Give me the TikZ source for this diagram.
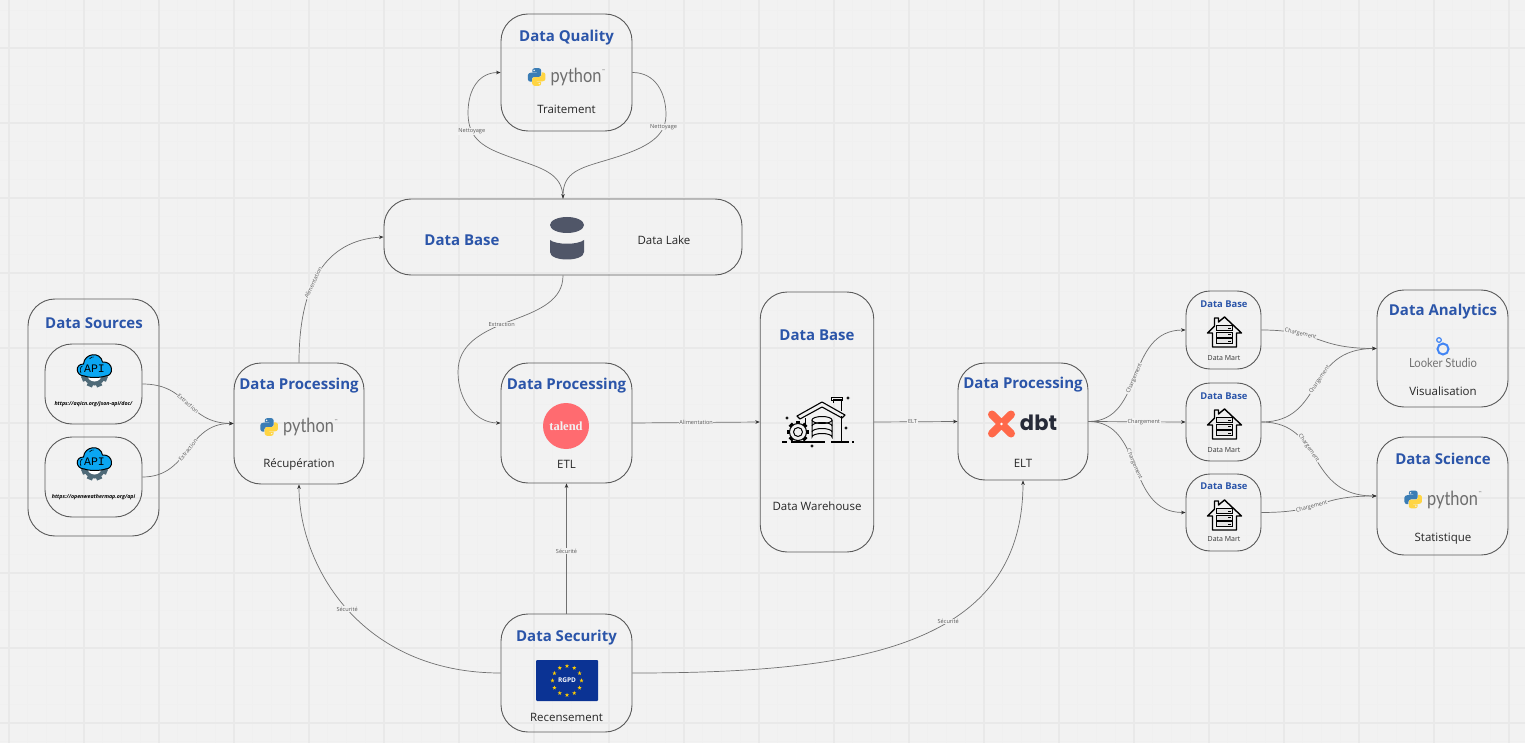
\documentclass[tikz,border=0pt]{standalone}
\usepackage{fontspec}
\setmainfont{Open Sans}
\newfontfamily\pyfont[FakeStretch=0.84]{Lato}
\newfontfamily\lookfont[FakeStretch=0.9]{Lato}
\newfontfamily\logofont{Lato}
\newfontfamily\dbtfont{Poppins}
\newfontfamily\talfont{Liberation Serif}
\newfontfamily\apifont{Liberation Mono}
\usetikzlibrary{arrows.meta,calc}
\definecolor{bgc}{HTML}{F2F2F2}
\definecolor{gridmaj}{HTML}{E9E9E9}
\definecolor{gridmin}{HTML}{F0F0F0}
\definecolor{titlec}{HTML}{2B55A9}
\definecolor{edgec}{HTML}{5A5A5A}
\definecolor{connc}{HTML}{707070}
\definecolor{pyblue}{HTML}{3B7DB5}
\definecolor{pyyellow}{HTML}{FFD543}
\definecolor{pygrey}{HTML}{6E6E6E}
\definecolor{apiblue}{HTML}{0AA6F2}
\definecolor{gearc}{HTML}{4F6A78}
\definecolor{cylc}{HTML}{505668}
\definecolor{talc}{HTML}{FF6B70}
\definecolor{dbtc}{HTML}{FF694A}
\definecolor{dbtk}{HTML}{262A38}
\definecolor{lookb}{HTML}{4285F4}
\definecolor{euc}{HTML}{0B3394}
\definecolor{eus}{HTML}{FFCC00}
\tikzset{
  x=1pt,y=-1pt,
  boxn/.style={draw=edgec,line width=0.9pt,rounded corners=27pt,inner sep=0pt},
  martn/.style={boxn,rounded corners=24pt},
  ttl/.style={font=\bfseries\fontsize{15}{18}\selectfont,text=titlec,inner sep=0pt,yshift=-0.5pt},
  ttls/.style={font=\bfseries\fontsize{9.4}{12}\selectfont,text=titlec,inner sep=0pt,yshift=-0.3pt},
  sub/.style={font=\fontsize{11.5}{14}\selectfont,text=black!85,inner sep=0pt},
  subs/.style={font=\fontsize{7}{9}\selectfont,text=black!80,inner sep=0pt},
  urln/.style={font=\bfseries\itshape\fontsize{5.3}{7}\selectfont,text=black,inner sep=0pt},
  conn/.style={draw=connc,line width=0.7pt,-{Stealth[length=4.5pt,width=3.6pt,color=black!80]}},
  lab/.style={font=\fontsize{5.6}{7}\selectfont,text=black!65,fill=bgc,inner sep=0.6pt},
  pylogo/.pic={
    \begin{scope}[xshift=-29.8pt,scale=0.166,xshift=-55pt,yshift=55pt]
      \fill[pyblue] (54.9,0.9) .. controls (50.3,0.9) and (45.9,1.3) .. (42.1,2)
        .. controls (30.8,4) and (28.8,8.1) .. (28.8,15.7) -- (28.8,25.8) -- (55.4,25.8) -- (55.4,29.1) -- (18.8,29.1)
        .. controls (11.1,29.1) and (4.3,33.8) .. (2.2,42.6)
        .. controls (-0.2,52.7) and (-0.3,59) .. (2.2,69.5)
        .. controls (4.1,77.3) and (8.5,82.9) .. (16.2,82.9) -- (25.3,82.9) -- (25.3,70.8)
        .. controls (25.3,62) and (32.9,54.3) .. (42,54.3) -- (68.6,54.3)
        .. controls (76,54.3) and (81.9,48.2) .. (81.9,40.8) -- (81.9,15.7)
        .. controls (81.9,8.5) and (75.8,3.1) .. (68.6,1.9)
        .. controls (64,1.1) and (59.3,0.8) .. (54.9,0.9) -- cycle;
      \fill[bgc] (39.5,15) circle[radius=5];
      \begin{scope}[xshift=110pt,yshift=-110pt,xscale=-1,yscale=-1]
      \fill[pyyellow] (54.9,0.9) .. controls (50.3,0.9) and (45.9,1.3) .. (42.1,2)
        .. controls (30.8,4) and (28.8,8.1) .. (28.8,15.7) -- (28.8,25.8) -- (55.4,25.8) -- (55.4,29.1) -- (18.8,29.1)
        .. controls (11.1,29.1) and (4.3,33.8) .. (2.2,42.6)
        .. controls (-0.2,52.7) and (-0.3,59) .. (2.2,69.5)
        .. controls (4.1,77.3) and (8.5,82.9) .. (16.2,82.9) -- (25.3,82.9) -- (25.3,70.8)
        .. controls (25.3,62) and (32.9,54.3) .. (42,54.3) -- (68.6,54.3)
        .. controls (76,54.3) and (81.9,48.2) .. (81.9,40.8) -- (81.9,15.7)
        .. controls (81.9,8.5) and (75.8,3.1) .. (68.6,1.9)
        .. controls (64,1.1) and (59.3,0.8) .. (54.9,0.9) -- cycle;
      \fill[bgc] (39.5,15) circle[radius=5];
      \end{scope}
    \end{scope}
    \node[inner sep=0pt,text=pygrey,font=\pyfont\fontsize{19.5}{22}\selectfont] (-word) at (9.5,0) {python};
    \node[inner sep=0pt,text=pygrey,font=\logofont\fontsize{4}{5}\selectfont] (-tm) at (37,-6) {™};
  },
  apilogo/.pic={
    \fill[gearc] (0,4) circle[radius=11.5];
    \foreach \a in {22.5,67.5,...,337.5}{
      \fill[gearc,rotate around={\a:(0,4)}] (-2.8,4) rectangle (2.8,17.5);
    }
    \fill[white] (0,4) circle[radius=7.5];
    \filldraw[fill=apiblue,draw=black,line width=1pt] (-10,6)
      .. controls (-19,6) and (-20,-6) .. (-11,-6)
      .. controls (-10,-17) and (6,-19) .. (8,-8)
      .. controls (19,-9) and (20,6) .. (11,6)
      .. controls (5,8) and (-5,8) .. cycle;
    \draw[black,line width=0.6pt] (-13.5,3) .. controls (-15,0) and (-14,-3.5) .. (-12,-4);
    \draw[black,line width=0.6pt] (-5,-11) .. controls (-4,-13) and (-2,-13) .. (-1,-13);
    \node[inner sep=0pt,font=\apifont\fontsize{11.5}{12}\selectfont] (-txt) at (0,-1.5) {API};
  },
  martlogo/.pic={
    \draw[black,line width=1.4pt,line join=round] (-17,1) -- (-10,-6) -- (-10,-14) -- (-6,-14) -- (-6,-10) -- (0,-15)
      -- (17,1) -- (12,1) -- (12,15) -- (-12,15) -- (-12,1) -- cycle;
    \foreach \y in {-6.5,0,6.5}{
      \filldraw[fill=black!10,draw=black,line width=0.7pt] (-8,\y) rectangle (8,\y+5);
      \fill[black] (3,\y+2) rectangle (6,\y+3);
    }
  },
  whlogo/.pic={
    % origin at (817,422)
    \draw[black,line width=1.1pt,line join=round,fill=bgc] (-20,-6) -- (5,-20) -- (28,-7) -- (25,-4) -- (5,-15) -- (-17,-3) -- cycle;
    \draw[black,line width=1pt] (16,-19) -- (16,-23) -- (24,-23) -- (24,-11);
    \draw[black,line width=1pt] (14.5,-25) rectangle (25.5,-22);
    \draw[black,line width=1pt] (24,-6) -- (24,20);
    \draw[black,line width=1pt] (-12,-4) -- (-12,3);
    \draw[black,line width=1.1pt] (-35,20) -- (-30,20) (-26,20) -- (8,20) (14,20) -- (32,20) (35,20) -- (37,20);
    \filldraw[fill=bgc,draw=black,line width=1pt] (-5,-2) -- (-5,15) arc[start angle=180,end angle=360,x radius=10,y radius=3.5] -- (15,-2);
    \filldraw[fill=bgc,draw=black,line width=1pt] (5,-2) ellipse[x radius=10,y radius=3.5];
    \draw[black,line width=1pt] (-5,4) arc[start angle=180,end angle=360,x radius=10,y radius=3.5];
    \draw[black,line width=1pt] (-5,10) arc[start angle=180,end angle=360,x radius=10,y radius=3.5];
    \foreach \a in {0,45,...,315}{
      \fill[black,rotate around={\a:(-19,10)}] (-21.3,-1) rectangle (-16.7,3);
    }
    \filldraw[fill=bgc,draw=black,line width=1pt] (-19,10) circle[radius=8.5];
    \draw[black,line width=1pt] (-19,10) circle[radius=4.5];
    \foreach \p in {(-30,-4),(31,-24),(29,6),(-5,24)}{
      \fill[black] \p ++(-2,0) -- ++(1.4,-0.6) -- ++(0.6,-1.4) -- ++(0.6,1.4) -- ++(1.4,0.6) -- ++(-1.4,0.6) -- ++(-0.6,1.4) -- ++(-0.6,-1.4) -- cycle;
    }
  },
  eustar/.pic={
    \fill[eus] (-90:2.2) -- (-54:0.9) -- (-18:2.2) -- (18:0.9) -- (54:2.2) -- (90:0.9) -- (126:2.2) -- (162:0.9) -- (198:2.2) -- (234:0.9) -- cycle;
  }
}
\begin{document}
\begin{tikzpicture}
\useasboundingbox (0,0) rectangle (1525,743);
\fill[bgc] (0,0) rectangle (1525,743);
% grid
\foreach \k in {0,...,81}{
  \draw[gridmin,line width=0.7pt] ({9+18.75*\k},0) -- ({9+18.75*\k},743);
}
\foreach \k in {-2,...,39}{
  \draw[gridmin,line width=0.7pt] (0,{48+18.75*\k}) -- (1525,{48+18.75*\k});
}
\foreach \k in {0,...,20}{
  \draw[gridmaj,line width=1.1pt] ({9+75*\k},0) -- ({9+75*\k},743);
}
\foreach \k in {0,...,9}{
  \draw[gridmaj,line width=1.1pt] (0,{48+75*\k}) -- (1525,{48+75*\k});
}
% boxes
\node[boxn,minimum width=131pt,minimum height=237pt] (src) at (93.5,417.5) {};
\node[boxn,minimum width=97pt,minimum height=80pt] (apiA) at (93.5,384) {};
\node[boxn,minimum width=97pt,minimum height=80pt] (apiB) at (93.5,477) {};
\node[boxn,minimum width=130pt,minimum height=121pt] (pA) at (299,423.5) {};
\node[boxn,minimum width=131pt,minimum height=117pt] (dq) at (566.5,72.5) {};
\node[boxn,minimum width=358pt,minimum height=76pt] (lake) at (563,237) {};
\node[boxn,minimum width=131pt,minimum height=120pt] (pB) at (566.5,423) {};
\node[boxn,minimum width=113.5pt,minimum height=260pt] (wh) at (817,422) {};
\node[boxn,minimum width=130pt,minimum height=117pt] (pC) at (1023,421.5) {};
\node[martn,minimum width=75pt,minimum height=78pt] (mA) at (1223.5,330) {};
\node[martn,minimum width=75pt,minimum height=78pt] (mB) at (1223.5,422) {};
\node[martn,minimum width=75pt,minimum height=77pt] (mC) at (1223.5,512.5) {};
\node[boxn,minimum width=131pt,minimum height=117pt] (an) at (1442.5,348.5) {};
\node[boxn,minimum width=131pt,minimum height=118pt] (sc) at (1442.5,496) {};
\node[boxn,minimum width=131pt,minimum height=118pt] (sec) at (566.5,673) {};
% titles and captions
\node[ttl] (tsrc) at (94,323) {Data Sources};
\node[urln] (uA) at (93.5,404) {https://aqicn.org/json-api/doc/};
\node[urln] (uB) at (93.5,497) {https://openweathermap.org/api};
\node[ttl] (tpA) at (299,385) {Data Processing};
\node[sub] (cpA) at (299,464) {Récupération};
\node[ttl] (tdq) at (566.5,37) {Data Quality};
\node[sub] (cdq) at (566.5,109) {Traitement};
\node[ttl] (tlake) at (462,240) {Data Base};
\node[sub] (clake) at (664,240) {Data Lake};
\node[ttl] (tpB) at (566.5,385) {Data Processing};
\node[sub] (cpB) at (566.5,464) {ETL};
\node[ttl] (twh) at (817,334.5) {Data Base};
\node[sub] (cwh) at (817,506) {Data Warehouse};
\node[ttl] (tpC) at (1023,384) {Data Processing};
\node[sub] (cpC) at (1023,463) {ELT};
\node[ttls] (tmA) at (1224,303.5) {Data Base};
\node[subs] (cmA) at (1224,358.5) {Data Mart};
\node[ttls] (tmB) at (1224,395.5) {Data Base};
\node[subs] (cmB) at (1224,450.5) {Data Mart};
\node[ttls] (tmC) at (1224,486) {Data Base};
\node[subs] (cmC) at (1224,539) {Data Mart};
\node[ttl] (tan) at (1443,311) {Data Analytics};
\node[sub] (can) at (1443,391) {Visualisation};
\node[ttl] (tsc) at (1443,458) {Data Science};
\node[sub] (csc) at (1443,539) {Statistique};
\node[ttl] (tsec) at (566.5,637) {Data Security};
\node[sub] (csec) at (566.5,717) {Recensement};
% logos
\pic (pyA) at (299,427) {pylogo};
\pic (pyB) at (566.5,77) {pylogo};
\pic (pyC) at (1443,499.5) {pylogo};
\pic (apA) at (94.5,370) {apilogo};
\pic (apB) at (94.5,463) {apilogo};
\pic (maA) at (1224.5,332) {martlogo};
\pic (maB) at (1224.5,424) {martlogo};
\pic (maC) at (1224.5,515) {martlogo};
\pic (whl) at (817,422) {whlogo};
% cylinder
\fill[cylc] (550,240) .. controls (556,245) and (578,245) .. (584,240) -- (584,252)
  .. controls (584,262) and (550,262) .. (550,252) -- cycle;
\fill[cylc] (567,225) ellipse[x radius=17,y radius=8];
% talend
\node[circle,fill=talc,minimum size=46pt,inner sep=0pt,text=bgc,font=\talfont\bfseries\fontsize{12.5}{14}\selectfont] (tal) at (566,426) {talend};
% dbt
\begin{scope}[shift={(1001.5,424)}]
  \draw[dbtc,line width=8pt,line cap=round] (-9.5,-9.5) -- (9.5,9.5) (-9.5,9.5) -- (9.5,-9.5);
  \fill[white] (0,0) circle[radius=1.4];
\end{scope}
\node[inner sep=0pt,text=dbtk,font=\dbtfont\bfseries\fontsize{21}{25}\selectfont] (dbtw) at (1038.5,423) {dbt};
% looker
\draw[lookb,line width=2pt] (1443,349) circle[radius=5.5];
\draw[lookb,line width=1.2pt] (1439,340) circle[radius=2.3];
\node[inner sep=0pt,text=black!55,font=\lookfont\fontsize{12.5}{15}\selectfont] (lkw) at (1443,362.5) {Looker Studio};
% flag
\fill[euc,rounded corners=1pt] (536,660) rectangle (598,701);
\foreach \a in {0,30,...,330}{
  \pic at ($(567,680.5)+(\a:14.5)$) {eustar};
}
\node[inner sep=0pt,text=white,font=\bfseries\fontsize{6.5}{8}\selectfont] (rgpd) at (567,680.5) {RGPD};
% connectors
\draw[conn] (apiA.east) .. controls (190,384) and (186,423) .. node[lab,sloped,pos=.5] (lA) {Extraction} (pA.west);
\draw[conn] (apiB.east) .. controls (190,477) and (186,423) .. node[lab,sloped,pos=.5] (lB) {Extraction} (pA.west);
\draw[conn] (pA.north) .. controls (299,285) and (325,240) .. node[lab,sloped,pos=.42] (lC) {Alimentation} (lake.west);
\draw[conn] (lake.north) .. controls (563,172) and (540,168) .. (510,157)
  .. controls (485,148) and (468,140) .. node[lab,pos=.72] (lD) {Nettoyage} (468,113)
  .. controls (468,88) and (480,72.5) .. (dq.west);
\draw[conn] (dq.east) .. controls (655,72.5) and (666,92) .. (666,115)
  .. controls (666,140) and (640,150) .. node[lab,pos=.18] (lE) {Nettoyage} (607,160)
  .. controls (580,168) and (563,172) .. (lake.north);
\draw[conn] (lake.south) .. controls (563,300) and (540,310) .. (513,320)
  .. controls (480,332) and (458,345) .. node[lab,pos=.12] (lF) {Extraction} (458,372)
  .. controls (458,400) and (475,423) .. (pB.west);
\draw[conn] (pB.east) -- node[lab] (lG) {Alimentation} (wh.west);
\draw[conn] (wh.east) -- node[lab,pos=.46] (lH) {ELT} (pC.west);
\draw[conn] (sec.north) -- node[lab,pos=.48] (lI) {Sécurité} (pB.south);
\draw[conn] (sec.west) .. controls (360,673) and (299,565) .. node[lab,pos=.5] (lJ) {Sécurité} (pA.south);
\draw[conn] (sec.east) .. controls (850,673) and (1023,650) .. node[lab,pos=.6] (lK) {Sécurité} (pC.south);
\draw[conn] (pC.east) .. controls (1145,421.5) and (1125,330) .. node[lab,sloped,pos=.48] (lL) {Chargement} (mA.west);
\draw[conn] (pC.east) -- node[lab,pos=.57] (lM) {Chargement} (mB.west);
\draw[conn] (pC.east) .. controls (1145,421.5) and (1125,512.5) .. node[lab,sloped,pos=.48] (lN) {Chargement} (mC.west);
\draw[conn] (mA.east) .. controls (1320,330) and (1315,348.5) .. node[lab,sloped,pos=.3] (lO) {Chargement} (an.west);
\draw[conn] (mB.east) .. controls (1325,422) and (1305,348.5) .. node[lab,sloped,pos=.55] (lP) {Chargement} (an.west);
\draw[conn] (mB.east) .. controls (1325,422) and (1305,496) .. node[lab,sloped,pos=.4] (lQ) {Chargement} (sc.west);
\draw[conn] (mC.east) .. controls (1325,512.5) and (1315,496) .. node[lab,sloped,pos=.4] (lR) {Chargement} (sc.west);
\end{tikzpicture}
\end{document}
